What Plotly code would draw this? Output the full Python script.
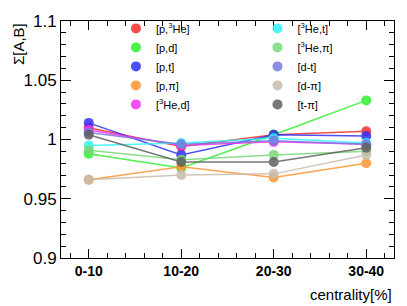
import plotly.graph_objects as go

categories = ["0-10", "10-20", "20-30", "30-40"]

names = ["[p,<sup>3</sup>He]", "[p,d]", "[p,t]", "[p,π]", "[<sup>3</sup>He,d]",
         "[<sup>3</sup>He,t]", "[<sup>3</sup>He,π]", "[d-t]", "[d-π]", "[t-π]"]

p_3He  = [1.010, 0.994, 1.004, 1.007]
p_d    = [0.988, 0.976, 1.004, 1.033]
p_t    = [1.014, 0.987, 1.004, 1.003]
p_pi   = [0.966, 0.977, 0.968, 0.980]
He3_d  = [1.008, 0.995, 0.998, 0.996]
He3_t  = [0.995, 0.997, 1.001, 0.997]
He3_pi = [0.991, 0.983, 0.987, 0.990]
d_t    = [1.006, 0.996, 0.999, 0.996]
d_pi   = [0.966, 0.970, 0.971, 0.987]
t_pi   = [1.004, 0.981, 0.981, 0.993]

series = [p_3He, p_d, p_t, p_pi, He3_d, He3_t, He3_pi, d_t, d_pi, t_pi]
colors = ["#f23030", "#30f030", "#3030f5", "#ff9530", "#f530f5",
          "#30f5f5", "#78d878", "#7878dc", "#c8bcb0", "#606060"]

xpos = list(range(len(categories)))

fig = go.Figure()
for i, (nm, ys, c) in enumerate(zip(names, series, colors)):
    lg = "legend" if i < 5 else "legend2"
    fig.add_trace(go.Scatter(
        x=xpos, y=ys, name=nm, mode="lines+markers",
        line=dict(color=c, width=1.5),
        marker=dict(color=c, size=10, line=dict(width=0)),
        opacity=0.85, showlegend=False, legendgroup=nm,
    ))
    # legend entry showing the marker only (as in the reference)
    fig.add_trace(go.Scatter(
        x=[None], y=[None], name=nm, mode="markers",
        marker=dict(color=c, size=10, line=dict(width=0)),
        opacity=0.85, legend=lg, legendgroup=nm,
    ))

font = "Liberation Sans, Arial, sans-serif"
fig.update_layout(
    width=407, height=306,
    margin=dict(l=61, r=13, t=13, b=48),
    paper_bgcolor="white", plot_bgcolor="white",
    font=dict(family=font, color="black"),
    showlegend=True,
    legend=dict(x=0.165, y=1.03, xanchor="left", yanchor="top",
                bgcolor="rgba(0,0,0,0)", font=dict(size=11, family=font),
                itemwidth=30, tracegroupgap=0),
    legend2=dict(x=0.59, y=1.03, xanchor="left", yanchor="top",
                 bgcolor="rgba(0,0,0,0)", font=dict(size=11, family=font),
                 itemwidth=30, tracegroupgap=0),
    xaxis=dict(range=[-0.3, 3.3], tickvals=xpos,
               ticktext=["<b>%s</b>" % c for c in categories],
               ticks="inside", ticklen=9, tickcolor="black",
               minor=dict(dtick=0.2, tick0=0, ticks="inside", ticklen=5, tickcolor="black"),
               showline=True, linecolor="black", linewidth=1, mirror="ticks",
               showgrid=False, zeroline=False,
               tickfont=dict(size=14, family=font)),
    yaxis=dict(range=[0.9, 1.1], dtick=0.05, tick0=0.9,
               ticks="inside", ticklen=10, tickcolor="black",
               minor=dict(dtick=0.01, ticks="inside", ticklen=5, tickcolor="black"),
               showline=True, linecolor="black", linewidth=1, mirror="ticks",
               showgrid=False, zeroline=False,
               tickfont=dict(size=17, family=font)),
    annotations=[
        dict(text="Σ[A,B]", textangle=-90, xref="paper", yref="paper",
             x=0, y=1, xanchor="center", yanchor="top", xshift=-43,
             showarrow=False, font=dict(size=15, family=font)),
        dict(text="centrality[%]", xref="paper", yref="paper",
             x=1, y=0, xanchor="right", yanchor="top", yshift=-26,
             showarrow=False, font=dict(size=15, family=font)),
    ],
)

fig.write_html("out.html", config={"displayModeBar": False},
               post_script="document.body.style.margin='0';document.body.style.overflow='hidden';")
